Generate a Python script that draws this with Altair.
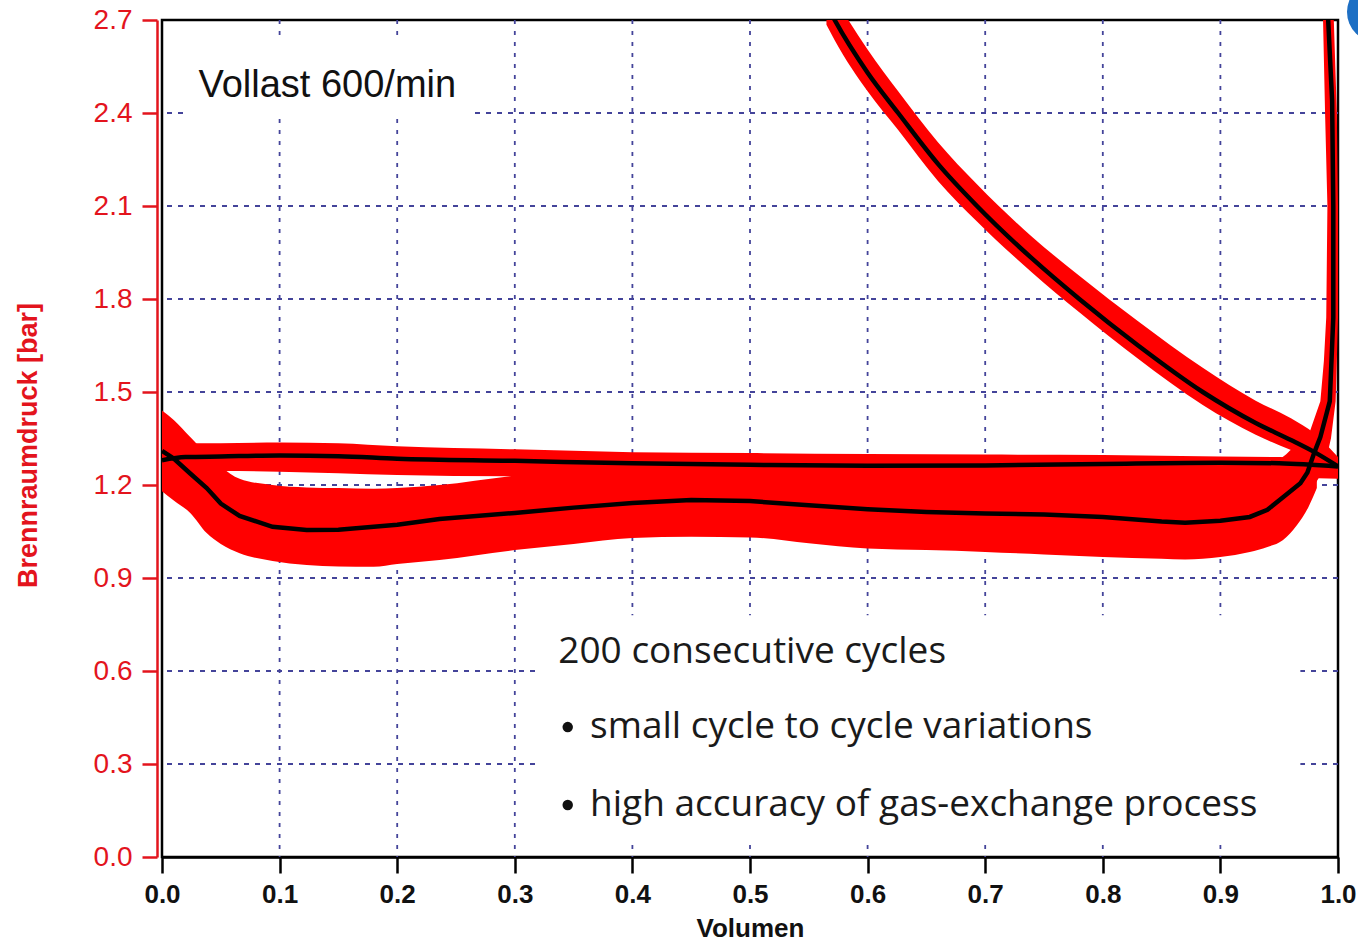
import altair as alt
import pandas as pd

# ---------------- axis ticks ----------------
x_ticks = [0.0, 0.1, 0.2, 0.3, 0.4, 0.5, 0.6, 0.7, 0.8, 0.9, 1.0]
y_ticks = [0.0, 0.3, 0.6, 0.9, 1.2, 1.5, 1.8, 2.1, 2.4, 2.7]
x_grid = [0.1, 0.2, 0.3, 0.4, 0.5, 0.6, 0.7, 0.8, 0.9]
y_grid = [0.3, 0.6, 0.9, 1.2, 1.5, 1.8, 2.1, 2.4]

# ---------------- exhaust stroke (upper horizontal band) ----------------
exh_x    = [0.0, 0.02, 0.05, 0.1, 0.15, 0.2, 0.3, 0.4, 0.5, 0.6, 0.7, 0.8, 0.9, 0.95, 1.0]
exh_mean = [1.28, 1.29, 1.292, 1.295, 1.293, 1.285, 1.278, 1.27, 1.265, 1.262, 1.263, 1.268, 1.272, 1.27, 1.26]
exh_hi   = [1.33, 1.335, 1.335, 1.337, 1.335, 1.325, 1.315, 1.306, 1.303, 1.300, 1.298, 1.297, 1.292, 1.29, 1.285]
exh_lo   = [1.24, 1.243, 1.245, 1.243, 1.238, 1.232, 1.228, 1.228, 1.228, 1.228, 1.23, 1.232, 1.23, 1.225, 1.22]

# ---------------- intake stroke (lower horizontal band) ----------------
int_x  = [0.0, 0.01, 0.024, 0.038, 0.05, 0.066, 0.094, 0.123, 0.15, 0.18, 0.2, 0.236, 0.3, 0.35,
          0.4, 0.45, 0.5, 0.55, 0.6, 0.65, 0.7, 0.75, 0.8, 0.85, 0.87, 0.9, 0.925, 0.94, 0.953, 0.965,
          0.975, 0.982]
int_hi = [1.44, 1.41, 1.355, 1.30, 1.26, 1.22, 1.20, 1.192, 1.19, 1.188, 1.19, 1.20, 1.23, 1.245,
          1.25, 1.25, 1.25, 1.25, 1.25, 1.248, 1.246, 1.245, 1.244, 1.244, 1.245, 1.245, 1.25, 1.26, 1.29, 1.33,
          1.35, 1.35]
int_lo = [1.18, 1.15, 1.11, 1.045, 1.01, 0.98, 0.955, 0.942, 0.937, 0.936, 0.945, 0.958, 0.99, 1.01,
          1.029, 1.033, 1.031, 1.012, 0.995, 0.99, 0.984, 0.976, 0.968, 0.962, 0.96, 0.968, 0.984, 1.0, 1.022, 1.07,
          1.13, 1.19]

# mean curve of intake + compression
ic_x = [0.0, 0.01, 0.024, 0.038, 0.05, 0.066, 0.094, 0.123, 0.15, 0.18, 0.2, 0.236, 0.3, 0.35, 0.4,
        0.45, 0.5, 0.55, 0.6, 0.65, 0.7, 0.75, 0.8, 0.85, 0.87, 0.9, 0.925, 0.94, 0.953, 0.968, 0.974,
        0.98, 0.985, 0.993, 0.996, 0.996, 0.995, 0.991]
ic_y = [1.31, 1.285, 1.237, 1.19, 1.14, 1.10, 1.065, 1.055, 1.056, 1.065, 1.072, 1.09, 1.11, 1.127, 1.142,
        1.152, 1.148, 1.135, 1.122, 1.113, 1.108, 1.105, 1.097, 1.082, 1.078, 1.085, 1.097, 1.12, 1.16, 1.206, 1.24,
        1.306, 1.355, 1.47, 1.74, 2.1, 2.44, 2.75]

# compression band (as function of pressure)
cb_y   = [1.1, 1.15, 1.25, 1.35, 1.47, 1.6, 1.74, 2.1, 2.4, 2.75]
cb_xlo = [0.94, 0.943, 0.958, 0.974, 0.985, 0.988, 0.990, 0.991, 0.989, 0.987]
cb_xhi = [0.964, 0.972, 0.988, 0.994, 0.998, 0.999, 1.0, 1.0, 0.999, 0.996]

# ---------------- expansion stroke ----------------
exp_x    = [0.565, 0.572, 0.6, 0.626, 0.66, 0.693, 0.74, 0.78, 0.83, 0.885, 0.93, 0.96, 0.98, 1.0]
exp_mean = [2.75, 2.7, 2.53, 2.4, 2.235, 2.1, 1.93, 1.8, 1.65, 1.5, 1.40, 1.345, 1.306, 1.26]
exp_hi   = [2.825, 2.775, 2.605, 2.47, 2.305, 2.17, 2.0, 1.875, 1.728, 1.578, 1.472, 1.415, 1.366, 1.29]
exp_lo   = [2.685, 2.635, 2.47, 2.345, 2.18, 2.05, 1.885, 1.757, 1.607, 1.458, 1.362, 1.313, 1.284, 1.238]

# ---------------- annotations ----------------
box_x  = [0.018, 0.321]
box_x2 = [0.262, 0.968]
box_y  = [2.63, 0.78]
box_y2 = [2.39, 0.06]

title_text = ["Vollast 600/min"]
title_x = [0.031]
title_y = [2.487]

note_text = ["200 consecutive  cycles", "small cycle to cycle variations",
             "high accuracy of gas-exchange process"]
note_x = [0.337, 0.364, 0.364]
note_y = [0.661, 0.419, 0.168]

bullet_x = [0.345, 0.345]
bullet_y = [0.419, 0.168]

RED = "#ff0000"
AXRED = "#e3141d"
GRID = "#44449a"

xs = alt.Scale(domain=[0, 1], nice=False, zero=False)
ys = alt.Scale(domain=[0, 2.7], nice=False, zero=False)

xaxis = alt.Axis(values=x_ticks, format=".1f", grid=False, domainColor="black", domainWidth=2.5,
                 tickColor="black", tickWidth=2.5, tickSize=16, labelFont="Liberation Sans",
                 labelFontSize=26, labelFontWeight="bold", labelColor="#111111", labelPadding=8,
                 labelFlush=False, title="Volumen", titleFont="Liberation Sans", titleFontSize=26,
                 titleFontWeight="bold", titleColor="#111111", titlePadding=8)
yaxis = alt.Axis(values=y_ticks, format=".1f", grid=False, offset=5, domainColor=AXRED, domainWidth=2.5,
                 tickColor=AXRED, tickWidth=2.5, tickSize=15, labelFont="Liberation Sans",
                 labelFontSize=28, labelColor=AXRED, labelPadding=10, labelFlush=False,
                 title="Brennraumdruck [bar]", titleFont="Liberation Sans", titleFontSize=27,
                 titleFontWeight="bold", titleColor=AXRED, titleX=-129, titleY=425,
                 titleAngle=-90, titleAlign="center", titleBaseline="middle")

X = lambda f="x": alt.X(f"{f}:Q", scale=xs, axis=xaxis)
Y = lambda f="y": alt.Y(f"{f}:Q", scale=ys, axis=yaxis)

vgrid = alt.Chart(pd.DataFrame({"x": x_grid})).mark_rule(
    color=GRID, strokeWidth=1.8, strokeDash=[4, 7]).encode(x=X())
hgrid = alt.Chart(pd.DataFrame({"y": y_grid})).mark_rule(
    color=GRID, strokeWidth=1.8, strokeDash=[5, 6]).encode(y=Y())

boxes = alt.Chart(pd.DataFrame({"x": box_x, "x2": box_x2, "y": box_y, "y2": box_y2})).mark_rect(
    color="white").encode(x=X(), x2="x2:Q", y=Y(), y2="y2:Q")

exh_df = pd.DataFrame({"x": exh_x, "y": exh_hi, "y2": exh_lo, "m": exh_mean})
int_df = pd.DataFrame({"x": int_x, "y": int_hi, "y2": int_lo})
exp_df = pd.DataFrame({"x": exp_x, "y": exp_hi, "y2": exp_lo, "m": exp_mean})
cb_df = pd.DataFrame({"y": cb_y, "x": cb_xlo, "x2": cb_xhi})
ic_df = pd.DataFrame({"x": ic_x, "y": ic_y, "o": list(range(len(ic_x)))})

exh_band = alt.Chart(exh_df).mark_area(color=RED, clip=True, interpolate="monotone").encode(
    x=X(), y=Y(), y2="y2:Q")
int_band = alt.Chart(int_df).mark_area(color=RED, clip=True, interpolate="monotone").encode(
    x=X(), y=Y(), y2="y2:Q")
exp_band = alt.Chart(exp_df).mark_area(color=RED, clip=True, interpolate="monotone").encode(
    x=X(), y=Y(), y2="y2:Q")
cmp_band = alt.Chart(cb_df).mark_area(color=RED, clip=True, orient="horizontal").encode(
    y=Y(), x=X(), x2="x2:Q")

exh_line = alt.Chart(exh_df).mark_line(color="black", strokeWidth=4.5, clip=True,
                                       interpolate="monotone").encode(x=X(), y=Y("m"))
exp_line = alt.Chart(exp_df).mark_line(color="black", strokeWidth=4.5, clip=True,
                                       interpolate="monotone").encode(x=X(), y=Y("m"))
ic_line = alt.Chart(ic_df).mark_line(color="black", strokeWidth=4.5, clip=True).encode(
    x=X(), y=Y(), order="o:Q")

title_lbl = alt.Chart(pd.DataFrame({"x": title_x, "y": title_y, "t": title_text})).mark_text(
    font="Liberation Sans", fontSize=38, color="#111111", align="left", baseline="middle").encode(
    x=X(), y=Y(), text="t:N")
notes = alt.Chart(pd.DataFrame({"x": note_x, "y": note_y, "t": note_text})).mark_text(
    font="Open Sans", fontSize=37, color="#1a1a1a", align="left", baseline="middle").encode(
    x=X(), y=Y(), text="t:N")
bullets = alt.Chart(pd.DataFrame({"x": bullet_x, "y": bullet_y})).mark_point(
    shape="circle", filled=True, color="#111111", opacity=1, size=110).encode(x=X(), y=Y())

logo = alt.Chart(pd.DataFrame({"x": [0]})).mark_point(
    shape="circle", filled=True, color="#1d6fc4", opacity=1, size=3600).encode(
    x=alt.value(1215), y=alt.value(-8))

chart = alt.layer(
    vgrid, hgrid, boxes, exh_band, int_band, cmp_band, exp_band,
    exh_line, ic_line, exp_line, title_lbl, notes, bullets, logo
).properties(
    width=1176, height=837,
    autosize=alt.AutoSizeParams(type="none"),
    padding={"left": 162, "top": 20, "right": 20, "bottom": 87},
    background="white",
).configure_view(stroke="black", strokeWidth=2.5)

chart.save("out.html", embed_options={"renderer": "svg", "actions": False})
